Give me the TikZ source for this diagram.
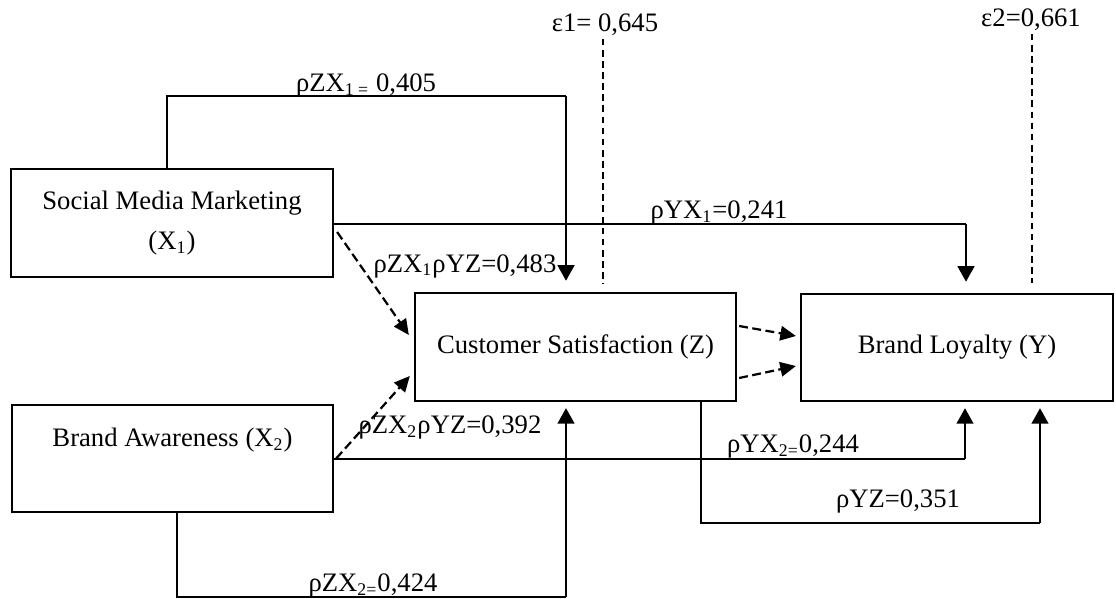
\documentclass[tikz,border=0pt]{standalone}
\usepackage{fontspec}
\setmainfont{Liberation Serif}
\usetikzlibrary{arrows.meta}
\definecolor{ink}{HTML}{000000}
\tikzset{
  box/.style={draw=ink, line width=1pt, inner sep=0pt, align=center},
  link/.style={draw=ink, line width=0.7pt},
  arr/.style={draw=ink, line width=1.1pt, -{Triangle[length=7pt,width=7.5pt]}},
  dasharr/.style={draw=ink, line width=1pt, dash pattern=on 4pt off 2pt, -{Triangle[length=7pt,width=6.5pt]}},
  err/.style={draw=ink, line width=0.7pt, dash pattern=on 3pt off 2pt},
  lab/.style={text=ink, inner sep=1pt, anchor=base},
}
\begin{document}
\begin{tikzpicture}[x=0.45pt,y=-0.45pt,font=\fontsize{12}{14.4}\selectfont]
  \useasboundingbox (0,0) rectangle (1116,599);
  % variables
  \node[box,minimum width=144.9pt,minimum height=48.6pt] (smm) at (172,223) {Social Media Marketing\\[3.5pt](X\textsubscript{1})};
  \node[box,minimum width=144.5pt,minimum height=48.2pt] (ba) at (172.5,458.5) {Brand Awareness (X\textsubscript{2})\\\strut};
  \node[box,minimum width=144.5pt,minimum height=48.6pt] (cs) at (575.5,347) {Customer Satisfaction (Z)};
  \node[box,minimum width=140.4pt,minimum height=48.2pt] (bl) at (957,347.5) {Brand Loyalty (Y)};

  % bends of the paths
  \coordinate (t1) at (167,96);
  \coordinate (t2) at (566,96);
  \coordinate (r1) at (966,224);
  \coordinate (r2) at (965,459);
  \coordinate (b3) at (701,523);
  \coordinate (r3) at (1040,523);
  \coordinate (b4) at (177,597);
  \coordinate (r4) at (566,597);
  \coordinate (e1) at (603,284);
  \coordinate (e2) at (1032,283);

  % direct paths
  \draw[link] (t1 |- smm.north) -- (t1) -- (t2);
  \draw[arr,shorten >=5pt] (t2) -- (t2 |- cs.north);
  \draw[link] (smm.east |- r1) -- (r1);
  \draw[arr,shorten >=5pt] (r1) -- (r1 |- bl.north);
  \draw[link] (ba.east |- r2) -- (r2);
  \draw[arr,shorten >=2.7pt] (r2) -- (r2 |- bl.south);
  \draw[link] (b3 |- cs.south) -- (b3) -- (r3);
  \draw[arr,shorten >=2.7pt] (r3) -- (r3 |- bl.south);
  \draw[link] (b4 |- ba.south) -- (b4) -- (r4);
  \draw[arr,shorten >=2.7pt] (r4) -- (r4 |- cs.south);

  % indirect paths
  \draw[dasharr] ([shift={(3,9)}]smm.east) -- ([shift={(-5,-12)}]cs.west);
  \draw[dasharr] ([shift={(2,0)}]ba.east) -- ([shift={(-4,29)}]cs.west);
  \draw[dasharr] ([shift={(2,-21)}]cs.east) -- ([shift={(-4,-11.5)}]bl.west);
  \draw[dasharr] ([shift={(2,31)}]cs.east) -- ([shift={(-4,18.5)}]bl.west);

  % residuals
  \node[lab] (eps1) at (605,32) {ε1= 0,645};
  \node[lab] (eps2) at (1031,27) {ε2=0,661};
  \draw[err] (e1 |- eps1.south) -- (e1);
  \draw[err] (e2 |- eps2.south) -- (e2);

  % coefficients
  \node[lab] (pzx1) at (366,92) {ρZX\textsubscript{1 =} 0,405};
  \node[lab] (pyx1) at (719,219) {ρYX\textsubscript{1}=0,241};
  \node[lab] (ind1) at (465,272) {ρZX\textsubscript{1}ρYZ=0,483};
  \node[lab] (ind2) at (450,433) {ρZX\textsubscript{2}ρYZ=0,392};
  \node[lab] (pyx2) at (793,452) {ρYX\textsubscript{2=}0,244};
  \node[lab] (pyz) at (898,507) {ρYZ=0,351};
  \node[lab] (pzx2) at (373,591) {ρZX\textsubscript{2=}0,424};
\end{tikzpicture}
\end{document}
